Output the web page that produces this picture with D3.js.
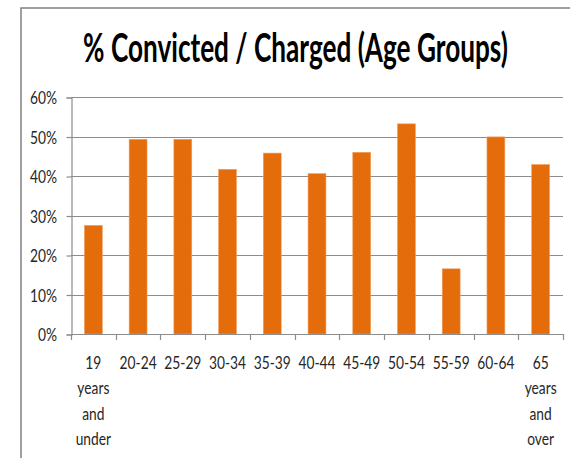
<!DOCTYPE html>
<html>
<head>
<meta charset="utf-8">
<script src="https://cdn.jsdelivr.net/npm/d3@7"></script>
<style>
  body { margin: 0; background: #fff; }
  svg { display: block; }
</style>
</head>
<body>
<div id="chart"></div>
<script>
var width = 570;
var height = 458;

// data
var ageGroups = ['19 years and under', '20-24', '25-29', '30-34', '35-39', '40-44',
                 '45-49', '50-54', '55-59', '60-64', '65 years and over'];
var ageLabels = [['19', 'years', 'and', 'under'], ['20-24'], ['25-29'], ['30-34'], ['35-39'], ['40-44'],
                 ['45-49'], ['50-54'], ['55-59'], ['60-64'], ['65', 'years', 'and', 'over']];
var convictedPct = [0.275, 0.493, 0.493, 0.417, 0.458, 0.406, 0.460, 0.532, 0.165, 0.499, 0.429];
var yTicks = [0, 0.1, 0.2, 0.3, 0.4, 0.5, 0.6];

var title = '% Convicted / Charged (Age Groups)';
var barColor = '#e46c0a';
var gridColor = '#8c8c8c';
var textColor = '#262626';
var font = 'Lato, "Open Sans", sans-serif';
// the original picture is stretched vertically, so text is too
var stretch = 'scale(1,1.32)';

var plot = {left: 71, right: 563, top: 97, bottom: 334};

var svg = d3.select('#chart')
            .append('svg')
            .attr('width', width)
            .attr('height', height);

// outer frame (cut off on right/bottom like the original)
svg.append('path')
   .attr('d', 'M21,' + height + ' L21,8 L' + width + ',8')
   .attr('fill', 'none')
   .attr('stroke', '#808080')
   .attr('stroke-width', 1.5);

// title: fit to 425px wide, then stretch up to the original's height
var titleText = svg.append('text')
   .attr('text-anchor', 'middle')
   .attr('font-family', font)
   .attr('font-weight', 'bold')
   .attr('font-size', 40)
   .attr('fill', '#000')
   .text(title);
var natural = titleText.node().getComputedTextLength();
var titleSize = 40 * 425 / natural;
titleText.attr('font-size', titleSize)
         .attr('transform', 'translate(295.5,62) scale(1,' + (40 / titleSize) + ')');

var x = d3.scaleBand()
          .domain(ageGroups)
          .range([plot.left, plot.right])
          .paddingInner(0.6)
          .paddingOuter(0.3);

var y = d3.scaleLinear()
          .domain([0, 0.6])
          .range([plot.bottom, plot.top]);

// gridlines
svg.append('g')
   .selectAll('line')
   .data(yTicks.filter(d => d > 0))
   .enter()
   .append('line')
   .attr('x1', plot.left)
   .attr('x2', plot.right)
   .attr('y1', d => Math.round(y(d)) + 0.5)
   .attr('y2', d => Math.round(y(d)) + 0.5)
   .attr('stroke', gridColor)
   .attr('stroke-width', 1.2);

// bars
svg.append('g')
   .selectAll('rect')
   .data(convictedPct)
   .enter()
   .append('rect')
   .attr('x', (d, i) => x(ageGroups[i]))
   .attr('y', d => y(d))
   .attr('width', x.bandwidth())
   .attr('height', d => plot.bottom - y(d))
   .attr('fill', barColor)
   .attr('stroke', '#f0a060')
   .attr('stroke-width', 0.6);

// y axis
var yAxis = d3.axisLeft(y)
              .tickValues(yTicks)
              .tickFormat(d3.format('.0%'))
              .tickSize(5);

var gy = svg.append('g')
            .attr('transform', 'translate(' + (plot.left + 0.5) + ',0.5)')
            .call(yAxis);

gy.selectAll('path, line').attr('stroke', gridColor).attr('stroke-width', 1.2);
gy.selectAll('text')
  .attr('x', 0)
  .attr('dy', null)
  .attr('transform', 'translate(-14.5,6.2) ' + stretch)
  .attr('font-family', font)
  .attr('font-size', 13.8)
  .attr('fill', textColor);

// x axis: ticks at category boundaries
var boundaries = d3.range(ageGroups.length + 1).map(i => plot.left + i * x.step());

var gx = svg.append('g');
gx.append('line')
  .attr('x1', plot.left)
  .attr('x2', plot.right)
  .attr('y1', plot.bottom + 0.5)
  .attr('y2', plot.bottom + 0.5)
  .attr('stroke', gridColor)
  .attr('stroke-width', 1.2);

gx.selectAll('.tick')
  .data(boundaries)
  .enter()
  .append('line')
  .attr('x1', d => Math.round(d) + 0.5)
  .attr('x2', d => Math.round(d) + 0.5)
  .attr('y1', plot.bottom)
  .attr('y2', plot.bottom + 6)
  .attr('stroke', gridColor)
  .attr('stroke-width', 1.2);

var labels = gx.selectAll('.label')
               .data(ageGroups)
               .enter()
               .append('g')
               .attr('transform', d => 'translate(' + (x(d) + x.bandwidth() / 2) + ',369)');

labels.selectAll('text')
      .data((d, i) => ageLabels[i])
      .enter()
      .append('text')
      .attr('transform', (d, i) => 'translate(0,' + (i * 25.3) + ') ' + stretch)
      .attr('text-anchor', 'middle')
      .attr('font-family', font)
      .attr('font-size', 13.8)
      .attr('fill', textColor)
      .text(d => d);
</script>
</body>
</html>
